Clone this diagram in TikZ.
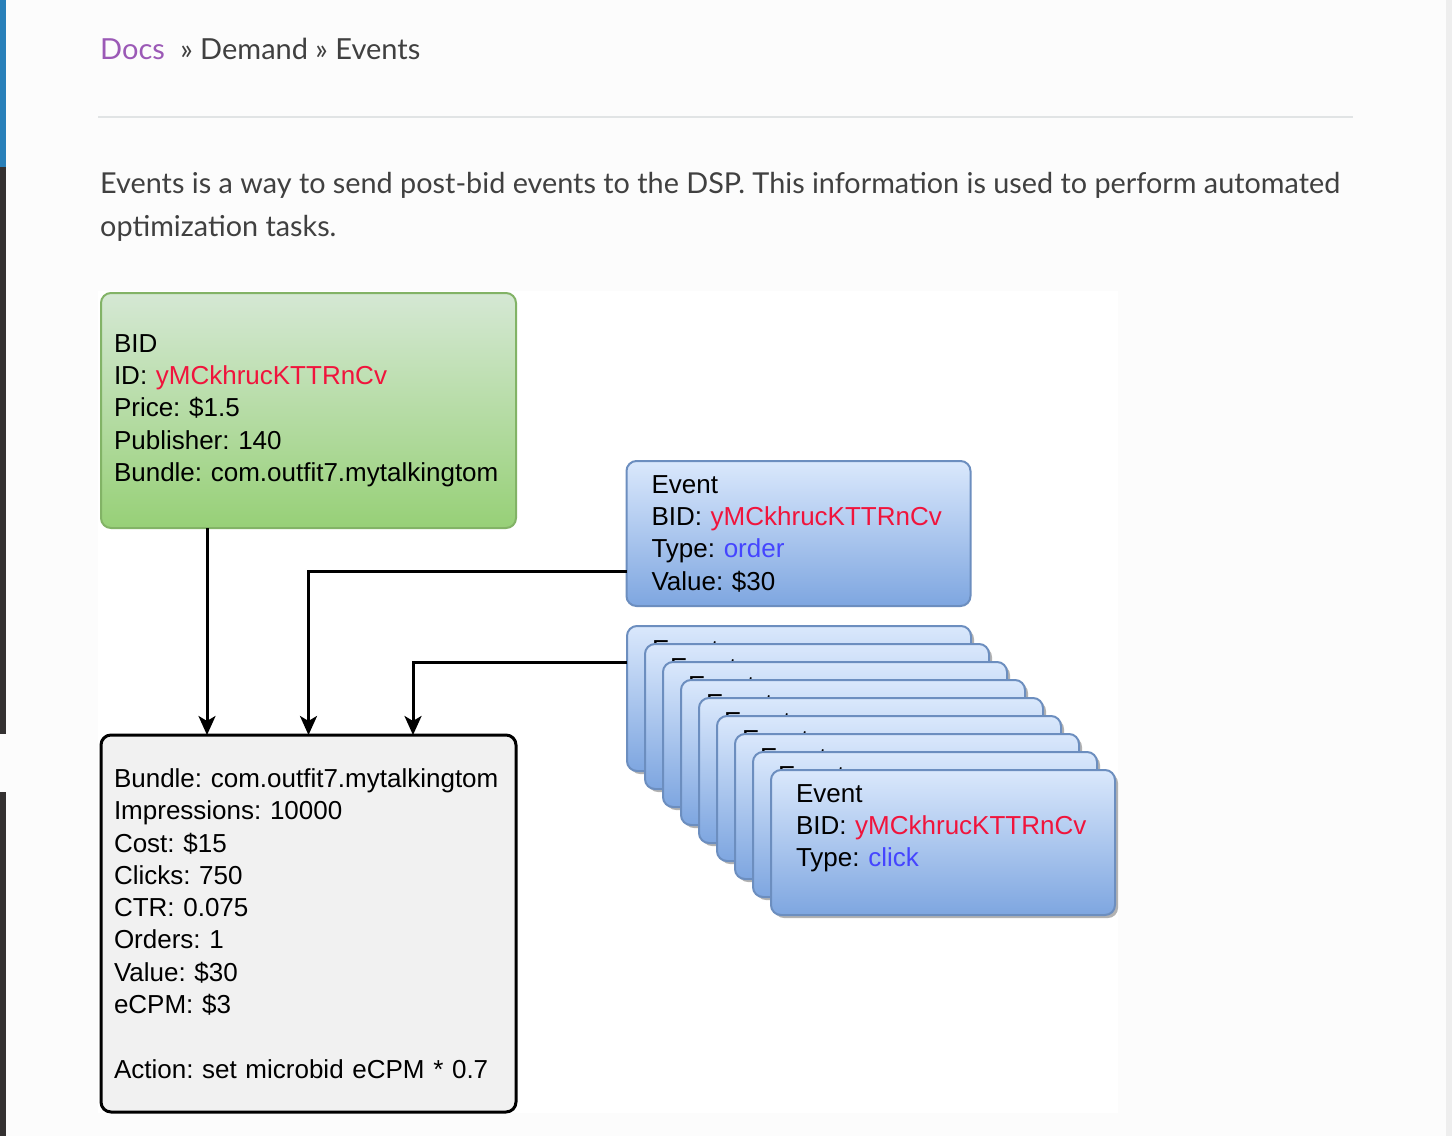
\documentclass[tikz,border=0pt]{standalone}
\usepackage{fontspec}
\usepackage{xcolor}
\usepackage{tikz}
\usetikzlibrary{positioning,shapes,arrows.meta,calc,shadows}

\newfontfamily\lato{Lato}
\newfontfamily\diagfont{Liberation Sans}
\frenchspacing

\definecolor{pagebg}{HTML}{FCFCFC}
\definecolor{navblue}{HTML}{2980B9}
\definecolor{navdark}{HTML}{343131}
\definecolor{scroll}{HTML}{EEEEEE}
\definecolor{rulecol}{HTML}{E1E4E5}
\definecolor{txt}{HTML}{404040}
\definecolor{docs}{HTML}{9B59B6}
\definecolor{bidtop}{HTML}{D5E8D4}
\definecolor{bidbottom}{HTML}{97D077}
\definecolor{bidline}{HTML}{82B366}
\definecolor{evtop}{HTML}{DAE8FC}
\definecolor{evbottom}{HTML}{7EA6E0}
\definecolor{evline}{HTML}{6C8EBF}
\definecolor{aggfill}{HTML}{F1F1F1}
\definecolor{bidred}{HTML}{F0143C}
\definecolor{typeblue}{HTML}{4545FF}

\begin{document}
\begin{tikzpicture}[x=1pt, y=-1pt,
    box/.style={draw, rounded corners=10pt, line width=2pt, inner sep=0pt, outer sep=0pt, align=left,
      font=\diagfont\fontsize{26}{32.3}\selectfont},
    bidbox/.style={box, draw=bidline, top color=bidtop, bottom color=bidbottom,
      minimum width=415pt, minimum height=235pt, text width=389pt},
    eventbox/.style={box, draw=evline, top color=evtop, bottom color=evbottom,
      minimum width=344pt, minimum height=145pt, text width=294pt},
    stacked/.style={drop shadow={shadow xshift=3pt, shadow yshift=-3pt, fill=black!30, opacity=1}},
    aggbox/.style={box, draw=black, line width=3pt, fill=aggfill,
      minimum width=415pt, minimum height=377pt, text width=389pt},
    flow/.style={line width=3pt, -{Stealth[length=19pt, width=17pt, inset=5pt]}}]

    % page
    \fill[pagebg] (0,0) rectangle (1452,1136);
    \fill[navblue] (0,0) rectangle (6,167);
    \fill[navdark] (0,167) rectangle (6,734);
    \fill[navdark] (0,792) rectangle (6,1136);
    \fill[scroll] (1446,0) rectangle (1452,1136);
    \draw[rulecol, line width=1.5pt] (98,117) -- (1353,117);
    \fill[white] (98,291) rectangle (1118,1113);

    \node[anchor=base west, inner sep=0pt, text=txt, font=\lato\fontsize{29}{36}\selectfont] (crumb) at (100,59.5)
        {\textcolor{docs}{Docs}\hspace{8pt} » Demand » Events};
    \node[anchor=base west, inner sep=0pt, align=left, text=txt, font=\lato\fontsize{28.8}{43}\selectfont] (intro) at (100,236)
        {Events is a way to send post-bid events to the DSP. This information is used to perform automated\\optimization tasks.};

    % diagram
    \node[bidbox] (bid) at (308.5,410.5)
        {BID\\ID: \textcolor{bidred}{yMCkhrucKTTRnCv}\\Price: \$1.5\\Publisher: 140\\Bundle: com.outfit7.mytalkingtom};

    \node[eventbox] (order) at (798.5,533.5)
        {Event\\BID: \textcolor{bidred}{yMCkhrucKTTRnCv}\\Type: \textcolor{typeblue}{order}\\Value: \$30};

    \foreach \i in {0,...,8}
        \node[eventbox, stacked] (ev\i) at ({799+18*\i},{698.5+18*\i})
            {Event\\BID: \textcolor{bidred}{yMCkhrucKTTRnCv}\\Type: \textcolor{typeblue}{click}\\[-8pt]\strut};

    \node[aggbox] (agg) at (308.5,923.5)
        {Bundle: com.outfit7.mytalkingtom\\Impressions: 10000\\Cost: \$15\\Clicks: 750\\CTR: 0.075\\Orders: 1\\Value: \$30\\eCPM: \$3\\[32.3pt]Action: set microbid eCPM * 0.7};

    \draw[flow] ([xshift=-101.5pt]bid.south) -- ([xshift=-101.5pt]agg.north);
    \draw[flow] ([yshift=-37.5pt]order.west) -| (agg.north);
    \draw[flow] ([yshift=36.5pt]ev0.west) -| ([xshift=104.5pt]agg.north);
\end{tikzpicture}
\end{document}
